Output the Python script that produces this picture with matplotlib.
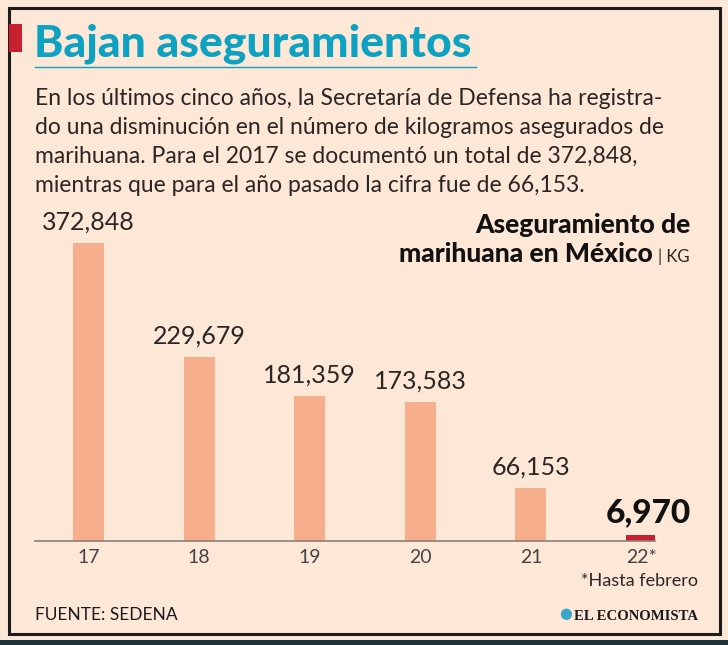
import matplotlib
matplotlib.use("Agg")
from matplotlib import pyplot as plt
from matplotlib.patches import Rectangle
import matplotlib.lines as mlines

years = ["17", "18", "19", "20", "21", "22*"]
kilos = [372848, 229679, 181359, 173583, 66153, 6970]
labels = ["372,848", "229,679", "181,359", "173,583", "66,153", "6,970"]

title = "Bajan aseguramientos"
intro = [
    "En los últimos cinco años, la Secretaría de Defensa ha registra-",
    "do una disminución en el número de kilogramos asegurados de",
    "marihuana. Para el 2017 se documentó un total de 372,848,",
    "mientras que para el año pasado la cifra fue de 66,153.",
]
chart_title = ["Aseguramiento de", "marihuana en México"]
unit = "KG"
note = "*Hasta febrero"
source = "FUENTE: SEDENA"
brand = "EL ECONOMISTA"

W, H = 728, 645
BG = "#fde7d7"
BAR = "#f7ae8c"
RED = "#c8202f"
TEAL = "#0ea2c2"
INK = "#2b2623"

plt.rcParams['font.family'] = ['Lato', 'DejaVu Sans']

fig = plt.figure(figsize=(W / 100, H / 100), dpi=100)
fig.patch.set_facecolor(BG)


def fx(x):
    return x / W


def fy(y):
    return 1 - y / H


# frame and decorations
fig.add_artist(Rectangle((fx(9), fy(634)), fx(720) - fx(9), fy(8) - fy(634),
                         transform=fig.transFigure, fill=False, lw=2.2, ec="#1c1c1c"))
fig.add_artist(Rectangle((0, 0), 1, fy(640), transform=fig.transFigure,
                         color="#1d3440", lw=0))
fig.add_artist(Rectangle((fx(9), fy(52)), fx(22) - fx(9), fy(24) - fy(52),
                         transform=fig.transFigure, color=RED, lw=0))
fig.add_artist(mlines.Line2D([fx(35), fx(476)], [fy(67), fy(67)],
                             transform=fig.transFigure, color=TEAL, lw=1))

fig.text(fx(34), fy(57), title, fontsize=32, fontweight="black", color=TEAL,
         ha="left", va="baseline")

for i, line in enumerate(intro):
    fig.text(fx(35), fy(105 + 29 * i), line, fontsize=16.5, color=INK,
             ha="left", va="baseline")

fig.text(fx(690), fy(233), chart_title[0], fontsize=19, fontweight="black",
         color="#111111", ha="right", va="baseline")
fig.text(fx(653), fy(262), chart_title[1], fontsize=19, fontweight="black",
         color="#111111", ha="right", va="baseline")
fig.text(fx(690), fy(262), "| " + unit, fontsize=12, color=INK,
         ha="right", va="baseline")

# chart
ax = fig.add_axes([fx(35), fy(541), fx(655) - fx(35), fy(200) - fy(541)])
ax.set_facecolor("none")
x = list(range(len(years)))
colors = [BAR] * (len(years) - 1) + [RED]
ax.bar(x, kilos, width=0.28, color=colors)
ax.set_xlim(-0.484, 5.122)
ax.set_ylim(0, 341 / 0.000799)
for s in ["top", "left", "right"]:
    ax.spines[s].set_visible(False)
ax.spines["bottom"].set_color("#8a7f78")
ax.spines["bottom"].set_linewidth(1.2)
ax.set_yticks([])
ax.set_xticks(x)
ax.set_xticklabels(years, fontsize=14, color="#444444")
ax.tick_params(axis="x", length=0, pad=6)

for i, (v, lab) in enumerate(zip(kilos, labels)):
    if i == len(kilos) - 1:
        ax.annotate(lab, (i, v), xytext=(5, 6), textcoords="offset points",
                    ha="center", va="bottom", fontsize=24, fontweight="black",
                    color="#111111")
    else:
        ax.annotate(lab, (i, v), xytext=(0, 7), textcoords="offset points",
                    ha="center", va="bottom", fontsize=18, color=INK)

fig.text(fx(698), fy(586), note, fontsize=13, color=INK, ha="right",
         va="baseline")
fig.text(fx(35), fy(620), source, fontsize=12.5, color="#1a1a1a", ha="left",
         va="baseline")
fig.text(fx(698), fy(620), brand, fontsize=10.6, fontweight="bold",
         family="Liberation Serif", color="#1a1a1a", ha="right", va="baseline")
fig.text(fx(566), fy(614), "\u25CF", fontsize=10.5, color="#3aa6c8",
         ha="center", va="center", family="DejaVu Sans")

fig.savefig("out.png", dpi=100, facecolor=BG)
